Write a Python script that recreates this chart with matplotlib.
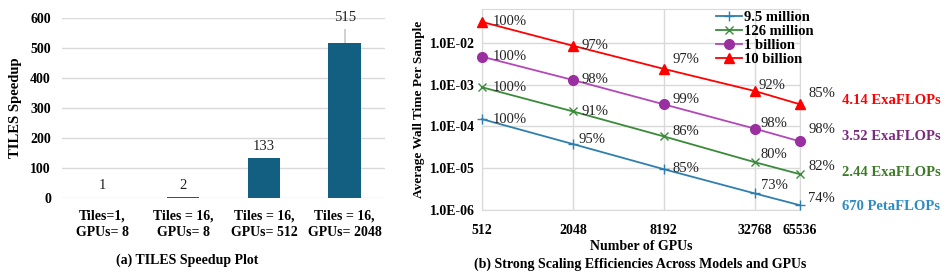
import matplotlib
matplotlib.use("Agg")
import matplotlib.pyplot as plt
import numpy as np

plt.rcParams['font.family'] = ['Liberation Serif', 'DejaVu Serif']

# ---- data (a)
tile_labels = ["Tiles=1,\nGPUs= 8", "Tiles = 16,\nGPUs= 8", "Tiles = 16,\nGPUs= 512", "Tiles = 16,\nGPUs= 2048"]
speedup = [1, 2, 133, 515]
speedup_err = [0, 0, 0, 48]

# ---- data (b)
gpus = [512, 2048, 8192, 32768, 65536]
series_names = ["9.5 million", "126 million", "1 billion", "10 billion"]
t_95m = [1.5e-4, 3.8e-5, 9.5e-6, 2.5e-6, 1.3e-6]
t_126m = [8.7e-4, 2.3e-4, 5.8e-5, 1.4e-5, 7.2e-6]
t_1b = [4.7e-3, 1.3e-3, 3.4e-4, 8.9e-5, 4.4e-5]
t_10b = [3.2e-2, 8.6e-3, 2.4e-3, 7.1e-4, 3.4e-4]
eff_95m = ["100%", "95%", "85%", "73%", "74%"]
eff_126m = ["100%", "91%", "86%", "80%", "82%"]
eff_1b = ["100%", "98%", "99%", "98%", "98%"]
eff_10b = ["100%", "97%", "97%", "92%", "85%"]
flops = ["670 PetaFLOPs", "2.44 ExaFLOPs", "3.52 ExaFLOPs", "4.14 ExaFLOPs"]

# styles
line_colors = ['#2f7fae', '#3a8a3a', '#b347b8', '#ff0000']
marker_colors = ['#2f7fae', '#3a8a3a', '#9a2fa0', '#ff0000']
flop_colors = ['#2e8bc0', '#3d7a26', '#7b2a7e', '#ff0000']
markers = ['+', 'x', 'o', '^']
msizes = [7, 6, 7, 7]
# label offsets in pixels (dx, dy-up) per series per point
offs = [
    [(11, 0), (6, 5), (9, 1), (6, 8), (8, 7)],
    [(11, 0), (9, 0), (9, 5), (6, 8), (8, 8)],
    [(11, 0), (9, 0), (9, 5), (6, 5), (8, 12)],
    [(11, 0), (9, 0), (9, 9), (4, 5), (8, 11)],
]
flop_y = [207, 173, 136, 100]

W, H = 946, 273
fig = plt.figure(figsize=(W / 100, H / 100), dpi=100)

# ---------- (a)
ax1 = fig.add_axes([62 / W, 1 - 198 / H, (385 - 62) / W, (198 - 18) / H])
x = np.arange(len(speedup))
ax1.errorbar(x, speedup, yerr=speedup_err, fmt='none', ecolor='#c9c9c9', elinewidth=1.2, capsize=0, zorder=1)
ax1.bar(x, speedup, width=0.4, color='#135f82', zorder=2)
for xi, v, e in zip(x, speedup, speedup_err):
    ax1.annotate(str(v), (xi, v + e), xytext=(0, 4), textcoords='offset points',
                 ha='center', va='bottom', fontsize=10.5, color='#222222')
ax1.set_xlim(-0.5, len(speedup) - 0.5)
ax1.set_ylim(0, 600)
ax1.set_yticks([0, 100, 200, 300, 400, 500, 600])
ax1.set_xticks(x)
ax1.set_xticklabels(tile_labels, fontweight='bold', fontsize=10, linespacing=1.35)
for lab in ax1.get_yticklabels():
    lab.set_fontweight('bold')
    lab.set_fontsize(10)
ax1.tick_params(axis='both', length=0, pad=8)
ax1.grid(axis='y', color='#d9d9d9', linewidth=1)
ax1.set_axisbelow(True)
for s in ax1.spines.values():
    s.set_visible(False)
ax1.set_ylabel("TILES Speedup", fontweight='bold', fontsize=10.5, labelpad=6)
fig.text(187 / W, 1 - 260 / H, "(a) TILES Speedup Plot", ha='center', va='center',
         fontweight='bold', fontsize=10)

# ---------- (b)
ax2 = fig.add_axes([482 / W, 1 - 210 / H, (800 - 482) / W, (210 - 9) / H])
ax2.set_xscale('log', base=2)
ax2.set_yscale('log')
all_t = [t_95m, t_126m, t_1b, t_10b]
all_e = [eff_95m, eff_126m, eff_1b, eff_10b]
for i in range(4):
    ax2.plot(gpus, all_t[i], color=line_colors[i], lw=1.3, marker=markers[i],
             ms=msizes[i], mfc=marker_colors[i], mec=marker_colors[i], mew=1.0,
             label=series_names[i], clip_on=False, zorder=3)
    for j in range(len(gpus)):
        dx, dy = offs[i][j]
        ax2.annotate(all_e[i][j], (gpus[j], all_t[i][j]), xytext=(dx * 0.72, dy * 0.72),
                     textcoords='offset points', ha='left', va='center', fontsize=10.5,
                     color='#222222', zorder=4)
ax2.set_xlim(512, 65536)
ax2.set_ylim(1e-6, 10 ** -1.186)
ax2.set_xticks(gpus)
ax2.set_xticklabels([str(g) for g in gpus], fontweight='bold', fontsize=10)
ax2.minorticks_off()
ax2.set_yticks([1e-6, 1e-5, 1e-4, 1e-3, 1e-2])
ax2.set_yticklabels(["1.0E-06", "1.0E-05", "1.0E-04", "1.0E-03", "1.0E-02"], fontweight='bold', fontsize=10)
ax2.tick_params(axis='both', length=0)
ax2.tick_params(axis='x', pad=10)
ax2.tick_params(axis='y', pad=5)
ax2.grid(True, color='#d9d9d9', linewidth=1)
ax2.set_axisbelow(True)
for s in ax2.spines.values():
    s.set_color('#d9d9d9')
ax2.set_ylabel("Average Wall Time Per Sample", fontweight='bold', fontsize=9.5, labelpad=4)
ax2.set_xlabel("Number of GPUs", fontweight='bold', fontsize=10, labelpad=2)
leg = ax2.legend(loc='upper left', bbox_to_anchor=(710 / W, 1 - 5 / H), bbox_transform=fig.transFigure,
                 frameon=False, prop={'weight': 'bold', 'size': 10.5}, handlelength=1.8,
                 handletextpad=0.1, labelspacing=0.05, borderaxespad=0)
for i in range(4):
    fig.text(842 / W, 1 - flop_y[i] / H, flops[i], color=flop_colors[i], ha='left', va='center',
             fontweight='bold', fontsize=10.5)
fig.text(640 / W, 1 - 264 / H, "(b) Strong Scaling Efficiencies Across Models and GPUs",
         ha='center', va='center', fontweight='bold', fontsize=10)

fig.savefig("out.png", dpi=100)
